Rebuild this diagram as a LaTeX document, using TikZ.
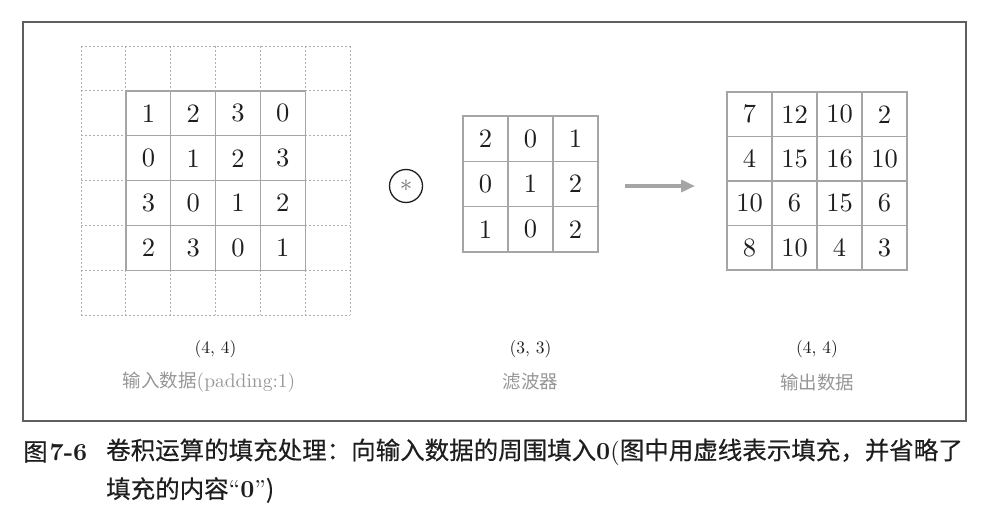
\documentclass[tikz,border=0pt]{standalone}
\usepackage{fontspec}
\setmainfont{lmroman10-regular}[Extension=.otf,BoldFont=lmroman10-bold]
\newfontfamily\cjk{Noto Sans CJK SC}
\newfontfamily\cjkcap{Noto Sans CJK SC}[FakeBold=0.4]
\usetikzlibrary{arrows.meta}
\definecolor{gridgray}{RGB}{165,165,165}
\definecolor{dashgray}{RGB}{175,175,175}
\definecolor{framegray}{RGB}{95,95,95}
\definecolor{labelgray}{RGB}{150,150,150}
\definecolor{txt}{RGB}{30,30,30}
\begin{document}
\begin{tikzpicture}[x=1pt,y=-1pt,
  cellbox/.style={draw=gridgray,line width=1.3pt,minimum width=44.8pt,minimum height=44.8pt,inner sep=0pt,
    font=\fontsize{26.5}{26.5}\selectfont,text=txt},
  padline/.style={draw=dashgray,line width=0.9pt,dash pattern=on 2pt off 2pt},
  sizelab/.style={font=\fontsize{17.5}{17.5}\selectfont,text=txt,inner sep=0pt},
  namelab/.style={font=\fontsize{19.5}{19.5}\selectfont,text=labelgray,inner sep=0pt},
  captext/.style={font=\cjkcap\fontsize{24.5}{24.5}\selectfont,text=txt,inner sep=0pt,anchor=west}]
\useasboundingbox (0,0) rectangle (985,519);
\draw[framegray,line width=1.2pt] (23,22) rectangle (966,421);
% padding grid (dashed)
\foreach \i in {0,...,6} {
  \draw[padline] ({81+\i*44.83},46) -- ({81+\i*44.83},315);
  \draw[padline] (81,{46+\i*44.83}) -- (350,{46+\i*44.83});
}
% input data
\foreach \row [count=\r] in {{1,2,3,0},{0,1,2,3},{3,0,1,2},{2,3,0,1}}
  \foreach \v [count=\c] in \row
    \node[cellbox] (in-\r-\c) at ({126+(\c-0.5)*44.8},{91+(\r-0.5)*44.8}) {\v};
% filter
\foreach \row [count=\r] in {{2,0,1},{0,1,2},{1,0,2}}
  \foreach \v [count=\c] in \row
    \node[cellbox,minimum width=45pt,minimum height=45.3pt] (fi-\r-\c) at ({463+(\c-0.5)*45},{116+(\r-0.5)*45.3}) {\v};
% output
\foreach \row [count=\r] in {{7,12,10,2},{4,15,16,10},{10,6,15,6},{8,10,4,3}}
  \foreach \v [count=\c] in \row
    \node[cellbox,minimum width=45pt,minimum height=44.5pt] (out-\r-\c) at ({727+(\c-0.5)*45},{92+(\r-0.5)*44.5}) {\v};
% convolution operator
\node[circle,draw=txt,line width=1.3pt,minimum size=33pt,inner sep=0pt,text=black!55] (conv) at (406,186) {\fontsize{24}{24}\selectfont$\ast$};
% arrow
\coordinate (arrs) at (625,186);
\coordinate (arre) at (695,186);
\draw[gridgray,line width=4.5pt,-{Triangle[length=14pt,width=12pt]}] (arrs) -- (arre);
% labels
\node[sizelab] (lab-in) at (215.5,349) {(4, 4)};
\node[namelab] (name-in) at (209,382) {{\cjk\fontsize{18.5}{18.5}\selectfont 输入数据}(padding:1)};
\node[sizelab] (lab-fi) at (530.5,349) {(3, 3)};
\node[namelab] (name-fi) at (530.5,382) {\cjk\fontsize{18.5}{18.5}\selectfont 滤波器};
\node[sizelab] (lab-out) at (817,349) {(4, 4)};
\node[namelab] (name-out) at (817,382) {\cjk\fontsize{18.5}{18.5}\selectfont 输出数据};
% caption
\node[captext] (cap-no) at (23,452) {图\kern2pt{\rmfamily\bfseries 7-6}};
\node[captext] (cap-1) at (106,452) {卷积运算的填充处理：向输入数据的周围填入{\rmfamily\bfseries 0}{\rmfamily(}图中用虚线表示填充，并省略了};
\node[captext] (cap-2) at (106,490) {填充的内容{\rmfamily``\textbf{0}''})};
\end{tikzpicture}
\end{document}
